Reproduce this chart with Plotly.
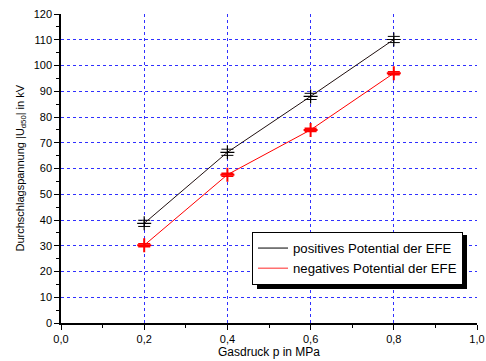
import plotly.graph_objects as go

pressure = [0.2, 0.4, 0.6, 0.8]
pos_values = [38.7, 66.3, 88.0, 110.1]
pos_err = [1.2, 1.2, 1.2, 1.2]
neg_values = [30.2, 57.6, 75.0, 97.0]
neg_err = [0.6, 0.6, 0.6, 0.6]
series_names = ["positives Potential der EFE", "negatives Potential der EFE"]

x_ticks = [0.0, 0.2, 0.4, 0.6, 0.8, 1.0]
y_ticks = list(range(0, 121, 10))
x_title = "Gasdruck p in MPa"
y_title = "Durchschlagspannung |U<sub>d50</sub>| in kV"

font = "Liberation Sans, Arial, sans-serif"

W, H = 486, 361
L, T, R, B = 61, 14, 9, 38
PW, PH = W - L - R, H - T - B

fig = go.Figure()
fig.add_trace(go.Scatter(
    x=pressure, y=pos_values, mode="lines+markers", showlegend=False,
    line=dict(color="#201010", width=1),
    marker=dict(symbol="cross-thin", size=10, line=dict(color="black", width=1.2), color="black"),
    error_y=dict(type="data", array=pos_err, visible=True, color="black", thickness=1, width=6),
))
fig.add_trace(go.Scatter(
    x=pressure, y=neg_values, mode="lines+markers", showlegend=False,
    line=dict(color="red", width=1),
    marker=dict(symbol="cross-thin", size=10, line=dict(color="red", width=2), color="red"),
    error_y=dict(type="data", array=neg_err, visible=True, color="red", thickness=1.5, width=6),
))
# legend entries (line only)
fig.add_trace(go.Scatter(x=[None], y=[None], mode="lines", name=series_names[0],
                         line=dict(color="#555555", width=1.5)))
fig.add_trace(go.Scatter(x=[None], y=[None], mode="lines", name=series_names[1],
                         line=dict(color="#ff7070", width=1.5)))

# legend shadow (paper coords; pixel offsets relative to plot area)
fig.add_shape(type="rect", xref="paper", yref="paper",
              x0=196 / PW, x1=406 / PW,
              y0=34 / PH, y1=88 / PH,
              fillcolor="black", line=dict(width=0), layer="above")

fig.add_annotation(text=x_title, xref="paper", yref="paper", x=0.5, y=0,
                   xanchor="center", yanchor="middle", yshift=-29, showarrow=False,
                   font=dict(size=12))
fig.add_annotation(text=y_title, xref="paper", yref="paper", x=0, y=0.5,
                   xanchor="center", yanchor="middle", xshift=-(L - 20), showarrow=False,
                   textangle=-90, font=dict(size=11))

fig.update_layout(
    width=W, height=H,
    margin=dict(l=L, r=R, t=T, b=B),
    paper_bgcolor="white", plot_bgcolor="white",
    separators=", ",
    font=dict(family=font, size=11, color="black"),
    showlegend=True,
    legend=dict(x=191 / PW, y=91 / PH, xanchor="left", yanchor="top",
                bgcolor="white", bordercolor="black", borderwidth=1,
                font=dict(family=font, size=13.2, color="black"),
                itemwidth=30, tracegroupgap=0),
)
fig.update_xaxes(
    range=[0, 1.0], tickvals=x_ticks, tickformat=".1f",
    showline=True, linecolor="black", linewidth=1.5,
    ticks="outside", ticklen=5, tickcolor="black",
    minor=dict(dtick=0.1, ticks="outside", ticklen=3, tickcolor="black", showgrid=False),
    showgrid=True, gridcolor="#3030ff", griddash="dot", gridwidth=1,
    zeroline=False, automargin=False,
)
fig.update_yaxes(
    range=[0, 120], tickvals=y_ticks,
    showline=True, linecolor="black", linewidth=1.5,
    ticks="outside", ticklen=5, tickcolor="black",
    minor=dict(dtick=5, ticks="outside", ticklen=3, tickcolor="black", showgrid=False),
    showgrid=True, gridcolor="#3030ff", griddash="dot", gridwidth=1,
    zeroline=False, automargin=False,
)

fig.write_html("out.html", config={"displayModeBar": False},
               post_script="document.body.style.margin='0';document.body.style.overflow='hidden';")
